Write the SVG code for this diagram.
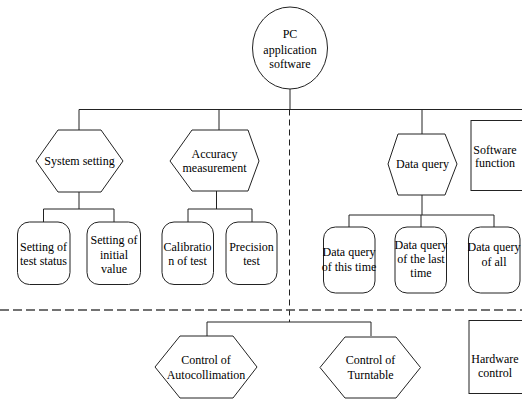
<svg xmlns="http://www.w3.org/2000/svg" width="522" height="399" viewBox="0 0 522 399">
<rect width="522" height="399" fill="#fff"/>
<g id="connectors" fill="none" stroke="#222" stroke-width="1">
<path d="M290,89V109.5M79,109.5H522M79,109.5V130M219,109.5V130M422,109.5V134"/>
<path d="M79,192V209M43.5,209H114M43.5,209V222M114,209V222"/>
<path d="M216.5,191V209M188,209H252M188,209V222M252,209V222"/>
<path d="M422,195V215M349,215H494M349,215V227M421,215V227M494,215V227"/>
<path d="M289.5,109.5V322" stroke-dasharray="6 4"/>
<path d="M0,310H522" stroke="#444" stroke-width="1.6" stroke-dasharray="9 4"/>
<path d="M207,322H371M207,322V336M371,322V336"/>
</g>
<g id="nodes" font-family="Liberation Serif" font-size="14" text-anchor="middle">
<g id="root"><ellipse fill="#fff" stroke="#222" cx="290" cy="48" rx="37.5" ry="41"/>
<text font-size="12" x="290" y="38">PC</text><text font-size="12" x="290" y="54">application</text><text font-size="12" x="290" y="68">software</text></g>
<g id="system-setting"><polygon fill="#fff" stroke="#222" points="58,130 101,130 123,161 101,192 58,192 36,161"/>
<text font-size="12" x="79.5" y="165">System setting</text></g>
<g id="accuracy-measurement"><polygon fill="#fff" stroke="#222" points="192,130 248,130 259,161 248,191 192,191 170,161"/>
<text font-size="12" x="214.5" y="157.5">Accuracy</text><text font-size="12" x="214.5" y="171.5">measurement</text></g>
<g id="data-query"><polygon fill="#fff" stroke="#222" points="398,134 445,134 457,164 445,195 398,195 388,164"/>
<text font-size="12" x="422.5" y="168">Data query</text></g>
<g id="software-function"><rect fill="#fff" stroke="#222" x="471" y="120.5" width="60" height="70"/>
<text font-size="12" x="495" y="154">Software</text><text font-size="12" x="495" y="167">function</text></g>
<g id="test-status"><rect fill="#fff" stroke="#222" x="17.5" y="222" width="52.5" height="62.5" rx="12"/>
<text font-size="12" x="43.5" y="251">Setting of</text><text font-size="12" x="43.5" y="265">test status</text></g>
<g id="initial-value"><rect fill="#fff" stroke="#222" x="87" y="222" width="53.5" height="62.5" rx="12"/>
<text font-size="12" x="114" y="244">Setting of</text><text font-size="12" x="114" y="259">initial</text><text font-size="12" x="114" y="273">value</text></g>
<g id="calibration"><rect fill="#fff" stroke="#222" x="162" y="222" width="51.5" height="62.5" rx="12"/>
<text font-size="12" x="187.5" y="251">Calibratio</text><text font-size="12" x="187.5" y="265">n of test</text></g>
<g id="precision"><rect fill="#fff" stroke="#222" x="226" y="222" width="51" height="62.5" rx="12"/>
<text font-size="12" x="251.5" y="251">Precision</text><text font-size="12" x="251.5" y="265">test</text></g>
<g id="query-this-time"><rect fill="#fff" stroke="#222" x="323.5" y="227" width="51.5" height="66" rx="12"/>
<text font-size="12" x="349" y="256">Data query</text><text font-size="12" x="349" y="271">of this time</text></g>
<g id="query-last-time"><rect fill="#fff" stroke="#222" x="395" y="227" width="51.5" height="66" rx="12"/>
<text font-size="12" x="421" y="249">Data query</text><text font-size="12" x="421" y="263">of the last</text><text font-size="12" x="421" y="277">time</text></g>
<g id="query-all"><rect fill="#fff" stroke="#222" x="468.5" y="227" width="51.5" height="66" rx="12"/>
<text font-size="12" x="494" y="251">Data query</text><text font-size="12" x="494" y="266">of all</text></g>
<g id="autocollimation"><polygon fill="#fff" stroke="#222" points="180,336 233,336 257,367 233,398 180,398 155,367"/>
<text font-size="12" x="206" y="364">Control of</text><text font-size="12" x="206" y="379">Autocollimation</text></g>
<g id="turntable"><polygon fill="#fff" stroke="#222" points="345,337 396,337 420.5,367.5 396,398 345,398 320,367.5"/>
<text font-size="12" x="370.5" y="364">Control of</text><text font-size="12" x="370.5" y="379">Turntable</text></g>
<g id="hardware-control"><rect fill="#fff" stroke="#222" x="469" y="320.5" width="60" height="73"/>
<text font-size="12" x="495" y="363">Hardware</text><text font-size="12" x="495" y="377">control</text></g>
</g>
</svg>
